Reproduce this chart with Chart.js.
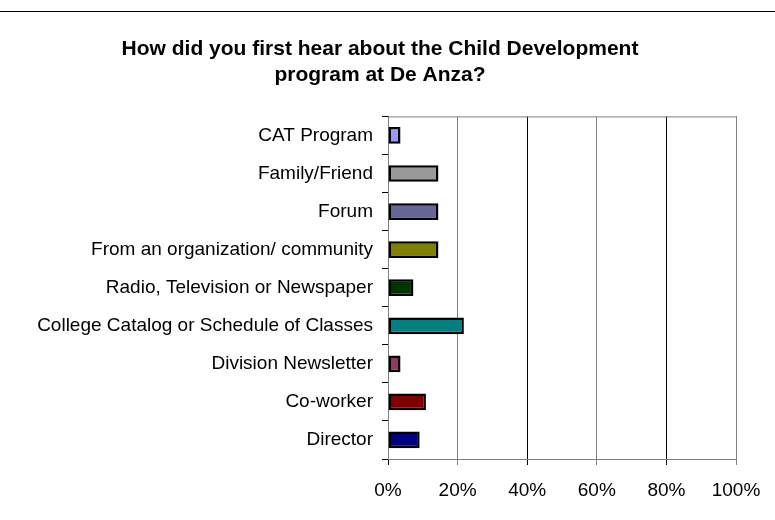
<!DOCTYPE html>
<html>
<head>
<meta charset="utf-8">
<script src="https://cdn.jsdelivr.net/npm/chart.js@4/dist/chart.umd.min.js"></script>
<style>
  html, body { margin: 0; padding: 0; background: #fff; }
  #wrap { position: relative; width: 775px; height: 520px; }
  #topline { position: absolute; left: 0; top: 11px; width: 775px; border-top: 1px solid #000; }
</style>
</head>
<body>
<div id="wrap">
  <div id="topline"></div>
  <canvas id="chart" width="775" height="520"></canvas>
</div>
<script>
const categories = [
    'CAT Program',
    'Family/Friend',
    'Forum',
    'From an organization/ community',
    'Radio, Television or Newspaper',
    'College Catalog or Schedule of Classes',
    'Division Newsletter',
    'Co-worker',
    'Director'
];
const values = [3.6, 14.5, 14.5, 14.5, 7.3, 21.8, 3.6, 10.9, 9.1];
const barColors = ['#9999ff', '#999999', '#666699', '#808000', '#003300', '#008080', '#993366', '#800000', '#000080'];
const xTicks = [0, 20, 40, 60, 80, 100];

const fontFamily = 'Liberation Sans, Arial, sans-serif';

// grey box round the plot area, like the spreadsheet chart
const plotBox = {
    id: 'plotBox',
    beforeDatasetsDraw(chart) {
        const a = chart.chartArea;
        const ctx = chart.ctx;
        ctx.save();
        ctx.strokeStyle = '#808080';
        ctx.lineWidth = 1;
        ctx.strokeRect(a.left + 0.5, a.top + 0.5, a.right - a.left, a.bottom - a.top);
        ctx.restore();
    }
};

const ctx = document.getElementById('chart').getContext('2d');
new Chart(ctx, {
    type: 'bar',
    data: {
        labels: categories,
        datasets: [{
            data: values,
            backgroundColor: barColors,
            borderColor: '#000',
            borderWidth: 2.5,
            borderSkipped: false,
            barPercentage: 0.44,
            categoryPercentage: 1
        }]
    },
    options: {
        indexAxis: 'y',
        responsive: false,
        animation: false,
        layout: { padding: { left: 24, right: 39, top: 0, bottom: 0 } },
        plugins: {
            legend: { display: false },
            tooltip: { enabled: false },
            title: {
                display: true,
                text: ['How did you first hear about the Child Development', 'program at De Anza?'],
                font: { family: fontFamily, size: 21, weight: 'bold' },
                color: '#000',
                lineHeight: 1.29,
                padding: { top: 37, bottom: 29 }
            }
        },
        scales: {
            x: {
                min: 0,
                max: 100,
                afterBuildTicks(scale) {
                    scale.ticks = xTicks.map(v => ({ value: v }));
                },
                afterFit(scale) { scale.height = 61; },
                ticks: {
                    callback: v => v + '%',
                    font: { family: fontFamily, size: 19 },
                    color: '#000',
                    padding: 14
                },
                grid: {
                    color: c => (c.tick && (c.tick.value === 20 || c.tick.value === 60 || c.tick.value === 100)) ? '#808080' : '#000',
                    lineWidth: 1,
                    tickLength: 6,
                    drawOnChartArea: true
                },
                border: { color: '#000', width: 1 }
            },
            y: {
                afterFit(scale) { scale.width = 364; },
                ticks: {
                    font: { family: fontFamily, size: 19 },
                    color: '#000',
                    padding: 9
                },
                grid: { offset: true, drawOnChartArea: false, color: '#000', tickLength: 6 },
                border: { color: '#000', width: 1 }
            }
        }
    },
    plugins: [plotBox]
});
</script>
</body>
</html>
